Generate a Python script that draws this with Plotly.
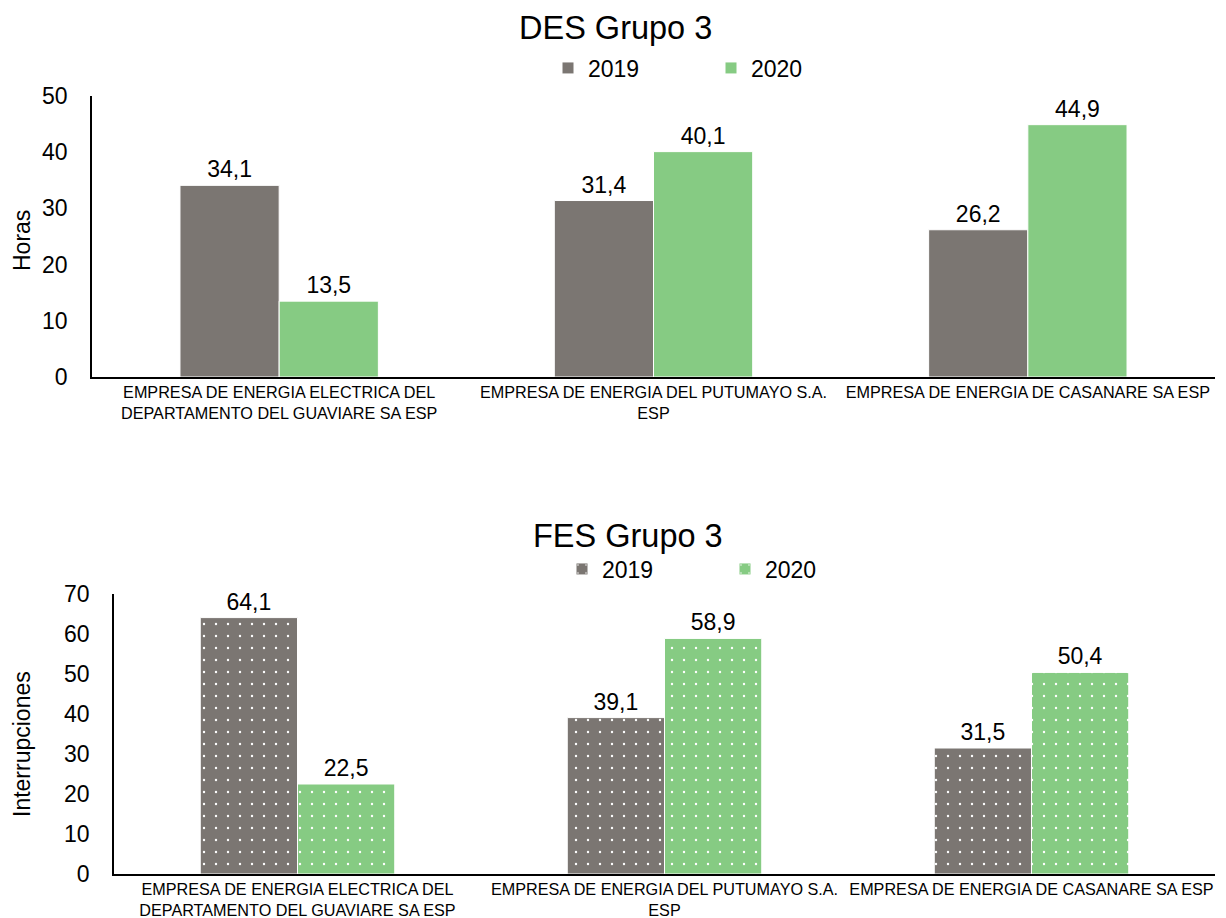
import plotly.graph_objects as go

categories = [
    "EMPRESA DE ENERGIA ELECTRICA DEL<br>DEPARTAMENTO DEL GUAVIARE SA ESP",
    "EMPRESA DE ENERGIA DEL PUTUMAYO S.A.<br>ESP",
    "EMPRESA DE ENERGIA DE CASANARE SA ESP",
]
years = ["2019", "2020"]
des_2019 = [34.1, 31.4, 26.2]
des_2020 = [13.5, 40.1, 44.9]
fes_2019 = [64.1, 39.1, 31.5]
fes_2020 = [22.5, 58.9, 50.4]
des_ticks = [0, 10, 20, 30, 40, 50]
fes_ticks = [0, 10, 20, 30, 40, 50, 60, 70]

GRAY = "#7b7672"
GREEN = "#86cb83"
FONT = "Liberation Sans, Arial, sans-serif"
BIG = 23

fig = go.Figure()

def bar(y, name, color, xa, ya, leg, pattern=False):
    marker = dict(color=color, line=dict(color="white", width=1))
    if pattern:
        marker["pattern"] = dict(shape=".", fgcolor="white", bgcolor=color,
                                 size=12, solidity=0.03, fillmode="replace")
    return go.Bar(x=categories, y=y, name=name, marker=marker,
                  texttemplate="%{y:.1f}", textposition="outside",
                  textfont=dict(family=FONT, size=BIG, color="black"),
                  cliponaxis=False, xaxis=xa, yaxis=ya, legend=leg)

fig.add_trace(bar(des_2019, years[0], GRAY, "x", "y", "legend"))
fig.add_trace(bar(des_2020, years[1], GREEN, "x", "y", "legend"))
fig.add_trace(bar(fes_2019, years[0], GRAY, "x2", "y2", "legend2", True))
fig.add_trace(bar(fes_2020, years[1], GREEN, "x2", "y2", "legend2", True))

H = 918.0
W = 1226.0

xcommon = dict(showline=True, linecolor="black", linewidth=1.5, ticks="",
               tickangle=0,
               tickfont=dict(family=FONT, size=16.2, color="black"),
               showgrid=False, zeroline=False, automargin=False)
ycommon = dict(showline=True, linecolor="black", linewidth=1.5, ticks="",
               tickfont=dict(family=FONT, size=BIG, color="black"),
               showgrid=False, zeroline=False, ticklabelstandoff=18, automargin=False)

fig.update_layout(
    width=1226, height=918,
    margin=dict(l=0, r=0, t=0, b=0, autoexpand=False),
    paper_bgcolor="white", plot_bgcolor="white",
    separators=", ",
    barmode="group", bargap=0.47, bargroupgap=0,
    font=dict(family=FONT, color="black"),
    xaxis=dict(domain=[92 / W, 1215 / W], anchor="y", **xcommon),
    yaxis=dict(domain=[1 - 377 / H, 1 - 96 / H], anchor="x", range=[0, 50],
               tickvals=des_ticks, **ycommon),
    xaxis2=dict(domain=[114 / W, 1215 / W], anchor="y2", **xcommon),
    yaxis2=dict(domain=[1 - 874 / H, 1 - 594 / H], anchor="x2", range=[0, 70],
                tickvals=fes_ticks, **ycommon),
    legend=dict(orientation="h", x=548 / W, y=1 - 68 / H, xanchor="left",
                yanchor="middle", entrywidth=118,
                font=dict(family=FONT, size=BIG, color="black")),
    legend2=dict(orientation="h", x=562 / W, y=1 - 569 / H, xanchor="left",
                 yanchor="middle", entrywidth=118,
                 font=dict(family=FONT, size=BIG, color="black")),
    annotations=[
        dict(text="DES Grupo 3", x=615 / W, y=1 - 28 / H, xref="paper", yref="paper",
             xanchor="center", yanchor="middle",
             showarrow=False, font=dict(family=FONT, size=32.5, color="black")),
        dict(text="FES Grupo 3", x=628 / W, y=1 - 536 / H, xref="paper", yref="paper",
             xanchor="center", yanchor="middle",
             showarrow=False, font=dict(family=FONT, size=32.5, color="black")),
        dict(text="Horas", x=22 / W, y=1 - 240 / H, xref="paper", yref="paper",
             xanchor="center", yanchor="middle",
             textangle=-90, showarrow=False, font=dict(family=FONT, size=BIG, color="black")),
        dict(text="Interrupciones", x=22 / W, y=1 - 744 / H, xref="paper", yref="paper",
             xanchor="center", yanchor="middle",
             textangle=-90, showarrow=False, font=dict(family=FONT, size=BIG, color="black")),
    ],
)

fig.write_html("out.html")
